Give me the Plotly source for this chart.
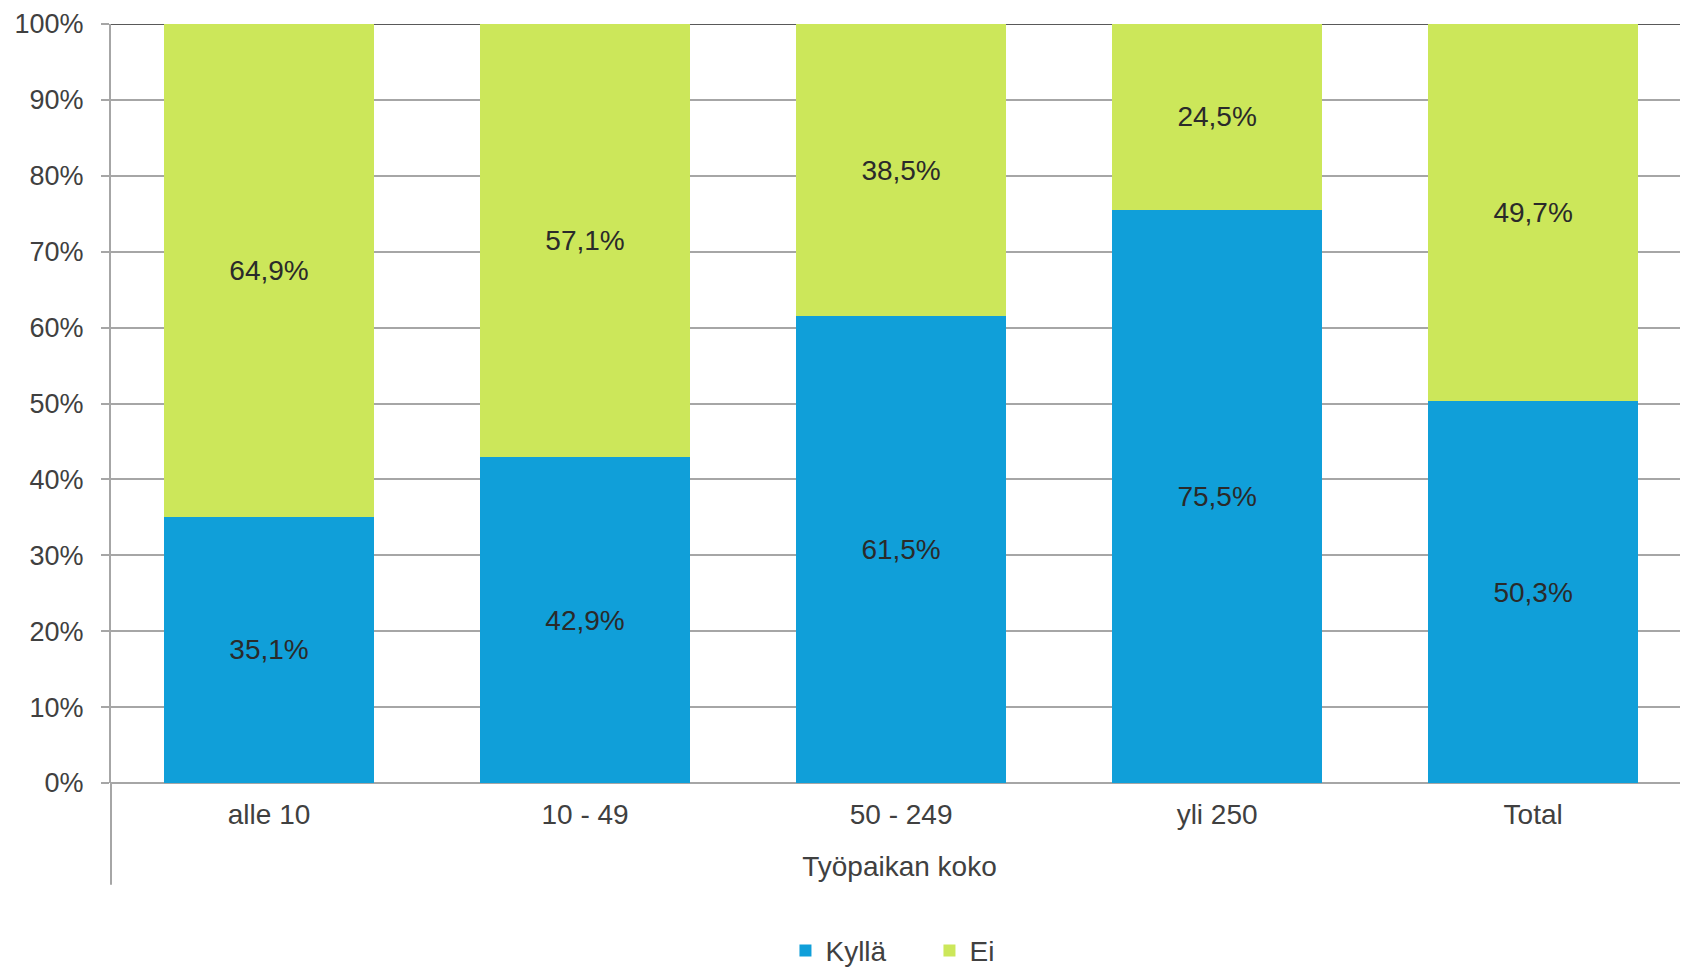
import plotly.graph_objects as go

categories = ["alle 10", "10 - 49", "50 - 249", "yli 250", "Total"]
kylla = [35.1, 42.9, 61.5, 75.5, 50.3]
ei = [64.9, 57.1, 38.5, 24.5, 49.7]
y_ticks = [0, 10, 20, 30, 40, 50, 60, 70, 80, 90, 100]
y_tick_text = ["0%", "10%", "20%", "30%", "40%", "50%", "60%", "70%", "80%", "90%", "100%"]
x_title = "Työpaikan koko"

FONT = "Liberation Sans, Arial, sans-serif"
BLUE = "#109fd9"
GREEN = "#cce75a"
GRID = "#a6a6a6"

fig = go.Figure()
fig.add_trace(go.Bar(
    name="Kyllä", x=categories, y=kylla, marker=dict(color=BLUE, line=dict(width=0)),
    texttemplate="%{y:.1f}%", textposition="inside", insidetextanchor="middle",
    textfont=dict(size=28, color="#2a2a2a", family=FONT),
))
fig.add_trace(go.Bar(
    name="Ei", x=categories, y=ei, marker=dict(color=GREEN, line=dict(width=0)),
    texttemplate="%{y:.1f}%", textposition="inside", insidetextanchor="middle",
    textfont=dict(size=28, color="#2a2a2a", family=FONT),
))

# page body has an 8px margin, so the figure is drawn 8px in and 8px smaller
fig.update_layout(
    width=1680, height=960,
    barmode="stack", bargap=0.337,
    separators=", ",
    plot_bgcolor="white", paper_bgcolor="white",
    font=dict(family=FONT, color="#404040", size=28),
    margin=dict(l=103, r=0, t=16, b=185, autoexpand=False),
    showlegend=True,
    legend=dict(orientation="h", x=0.519, xanchor="center", y=-0.221, yanchor="middle",
                font=dict(size=28, color="#404040"), itemwidth=30, traceorder="normal",
                entrywidth=99),
    uniformtext=dict(minsize=28, mode="show"),
)
fig.update_xaxes(
    range=[-0.5, 4.49], automargin=False,
    showline=False, showgrid=False,
    ticks="outside", ticklen=6, tickcolor="rgba(0,0,0,0)",
    tickfont=dict(size=28, color="#404040"),
    title=dict(text=x_title, font=dict(size=28, color="#404040"), standoff=27),
)
fig.update_yaxes(
    range=[0, 100], automargin=False,
    tickmode="array", tickvals=y_ticks, ticktext=y_tick_text,
    showgrid=True, gridcolor=GRID, gridwidth=1.5,
    zeroline=True, zerolinecolor=GRID, zerolinewidth=1.5,
    showline=True, linecolor=GRID, linewidth=2,
    ticks="outside", ticklen=8, tickcolor=GRID, tickwidth=1.5,
    ticklabelstandoff=12,
    tickfont=dict(size=27, color="#404040"),
)
# top line (darker) and extension of the vertical axis below the category labels
fig.add_shape(type="line", xref="paper", yref="y", x0=0, x1=1, y0=100, y1=100,
              line=dict(color="#595959", width=2), layer="below")
fig.add_shape(type="line", xref="paper", yref="paper", x0=0, x1=0, y0=0, y1=-0.134,
              line=dict(color=GRID, width=2))

fig.write_html("out.html")
